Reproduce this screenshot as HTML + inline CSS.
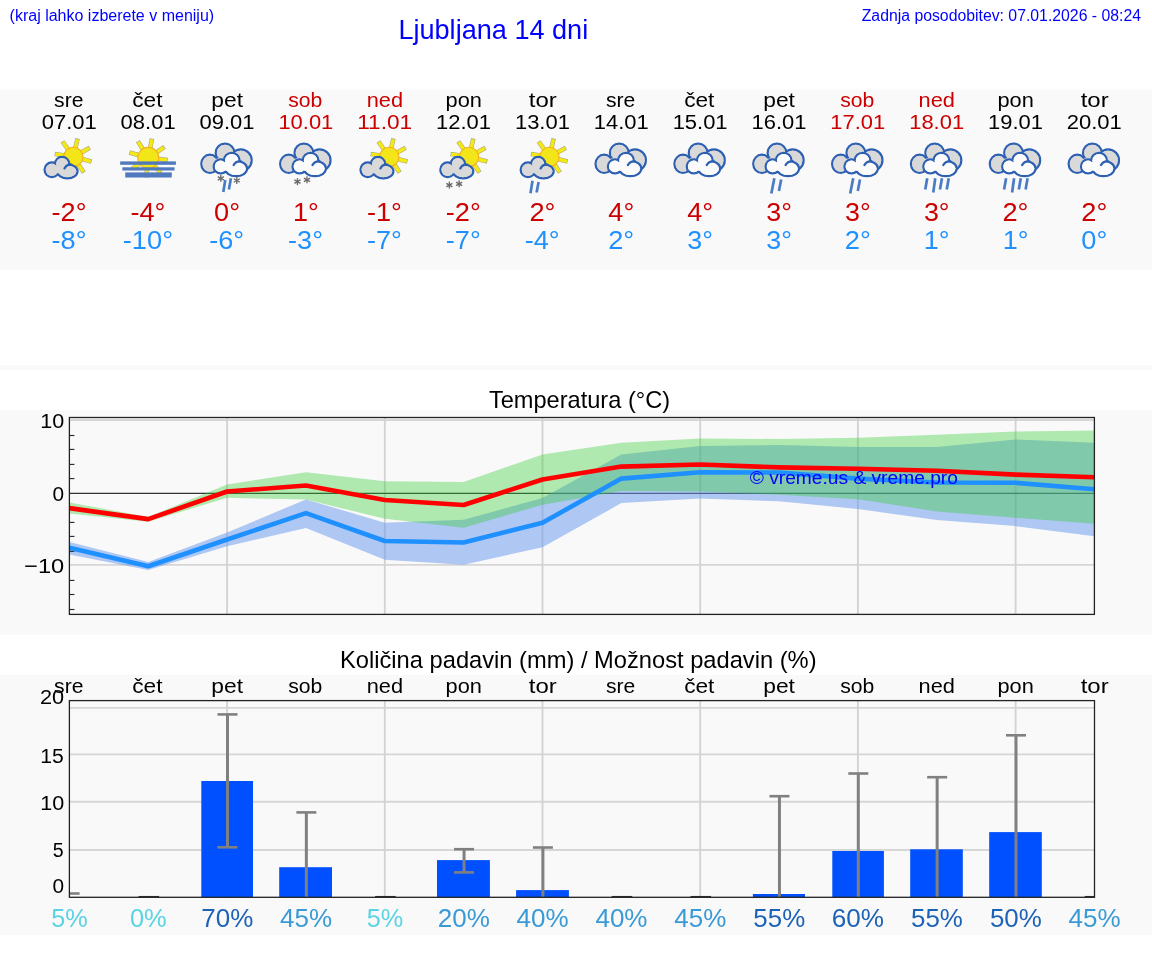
<!DOCTYPE html><html><head><meta charset="utf-8"><title>Ljubljana 14 dni</title><style>html,body{margin:0;padding:0;background:#fff;overflow:hidden}svg{display:block;will-change:transform}text{font-family:"Liberation Sans",sans-serif}</style></head><body>
<svg width="1152" height="975" viewBox="0 0 1152 975">
<rect width="1152" height="975" fill="#fff"/>
<rect x="0" y="89.7" width="1152" height="180.3" fill="#f9f9f9"/>
<rect x="0" y="365" width="1152" height="5" fill="#f9f9f9"/>
<rect x="0" y="410" width="1152" height="225" fill="#f9f9f9"/>
<rect x="0" y="675" width="1152" height="260" fill="#f9f9f9"/>
<text x="9.6" y="21" font-size="16" fill="#0000ff" text-anchor="start">(kraj lahko izberete v meniju)</text>
<text x="398.4" y="39.2" font-size="27.1" fill="#0000ff" text-anchor="start">Ljubljana 14 dni</text>
<text x="1141" y="21.4" font-size="15.8" fill="#0000ff" text-anchor="end">Zadnja posodobitev: 07.01.2026 - 08:24</text>
<text x="68.75" y="106.8" font-size="20.15" fill="#000" text-anchor="middle" textLength="29.3" lengthAdjust="spacingAndGlyphs">sre</text>
<text x="69.26" y="128.8" font-size="20.84" fill="#000" text-anchor="middle" textLength="55.05" lengthAdjust="spacingAndGlyphs">07.01</text>
<text x="69.03" y="220.8" font-size="25.31" fill="#cc0000" text-anchor="middle" textLength="34.95" lengthAdjust="spacingAndGlyphs">-2°</text>
<text x="69.03" y="248.8" font-size="25.31" fill="#1e90ff" text-anchor="middle" textLength="34.95" lengthAdjust="spacingAndGlyphs">-8°</text>
<text x="147.36" y="106.8" font-size="20.15" fill="#000" text-anchor="middle" textLength="30.23" lengthAdjust="spacingAndGlyphs">čet</text>
<text x="148.11" y="128.8" font-size="20.84" fill="#000" text-anchor="middle" textLength="55.05" lengthAdjust="spacingAndGlyphs">08.01</text>
<text x="147.88" y="220.8" font-size="25.31" fill="#cc0000" text-anchor="middle" textLength="34.95" lengthAdjust="spacingAndGlyphs">-4°</text>
<text x="147.94" y="248.8" font-size="25.31" fill="#1e90ff" text-anchor="middle" textLength="50.23" lengthAdjust="spacingAndGlyphs">-10°</text>
<text x="227.14" y="106.8" font-size="20.15" fill="#000" text-anchor="middle" textLength="31.7" lengthAdjust="spacingAndGlyphs">pet</text>
<text x="226.96" y="128.8" font-size="20.84" fill="#000" text-anchor="middle" textLength="55.05" lengthAdjust="spacingAndGlyphs">09.01</text>
<text x="227.01" y="220.8" font-size="25.31" fill="#cc0000" text-anchor="middle" textLength="25.95" lengthAdjust="spacingAndGlyphs">0°</text>
<text x="226.73" y="248.8" font-size="25.31" fill="#1e90ff" text-anchor="middle" textLength="34.95" lengthAdjust="spacingAndGlyphs">-6°</text>
<text x="305.3" y="106.8" font-size="20.15" fill="#cc0000" text-anchor="middle" textLength="34.06" lengthAdjust="spacingAndGlyphs">sob</text>
<text x="305.87" y="128.8" font-size="20.84" fill="#cc0000" text-anchor="middle" textLength="54.93" lengthAdjust="spacingAndGlyphs">10.01</text>
<text x="305.93" y="220.8" font-size="25.31" fill="#cc0000" text-anchor="middle" textLength="25.81" lengthAdjust="spacingAndGlyphs">1°</text>
<text x="305.58" y="248.8" font-size="25.31" fill="#1e90ff" text-anchor="middle" textLength="34.95" lengthAdjust="spacingAndGlyphs">-3°</text>
<text x="384.85" y="106.8" font-size="20.15" fill="#cc0000" text-anchor="middle" textLength="36.32" lengthAdjust="spacingAndGlyphs">ned</text>
<text x="384.72" y="128.8" font-size="20.84" fill="#cc0000" text-anchor="middle" textLength="55.04" lengthAdjust="spacingAndGlyphs">11.01</text>
<text x="384.43" y="220.8" font-size="25.31" fill="#cc0000" text-anchor="middle" textLength="34.95" lengthAdjust="spacingAndGlyphs">-1°</text>
<text x="384.43" y="248.8" font-size="25.31" fill="#1e90ff" text-anchor="middle" textLength="34.95" lengthAdjust="spacingAndGlyphs">-7°</text>
<text x="463.73" y="106.8" font-size="20.15" fill="#000" text-anchor="middle" textLength="36.32" lengthAdjust="spacingAndGlyphs">pon</text>
<text x="463.57" y="128.8" font-size="20.84" fill="#000" text-anchor="middle" textLength="54.93" lengthAdjust="spacingAndGlyphs">12.01</text>
<text x="463.28" y="220.8" font-size="25.31" fill="#cc0000" text-anchor="middle" textLength="34.95" lengthAdjust="spacingAndGlyphs">-2°</text>
<text x="463.28" y="248.8" font-size="25.31" fill="#1e90ff" text-anchor="middle" textLength="34.95" lengthAdjust="spacingAndGlyphs">-7°</text>
<text x="542.77" y="106.8" font-size="20.15" fill="#000" text-anchor="middle" textLength="28.01" lengthAdjust="spacingAndGlyphs">tor</text>
<text x="542.42" y="128.8" font-size="20.84" fill="#000" text-anchor="middle" textLength="54.93" lengthAdjust="spacingAndGlyphs">13.01</text>
<text x="542.4" y="220.8" font-size="25.31" fill="#cc0000" text-anchor="middle" textLength="25.99" lengthAdjust="spacingAndGlyphs">2°</text>
<text x="542.13" y="248.8" font-size="25.31" fill="#1e90ff" text-anchor="middle" textLength="34.95" lengthAdjust="spacingAndGlyphs">-4°</text>
<text x="620.7" y="106.8" font-size="20.15" fill="#000" text-anchor="middle" textLength="29.3" lengthAdjust="spacingAndGlyphs">sre</text>
<text x="621.27" y="128.8" font-size="20.84" fill="#000" text-anchor="middle" textLength="54.93" lengthAdjust="spacingAndGlyphs">14.01</text>
<text x="621.29" y="220.8" font-size="25.31" fill="#cc0000" text-anchor="middle" textLength="25.89" lengthAdjust="spacingAndGlyphs">4°</text>
<text x="621.25" y="248.8" font-size="25.31" fill="#1e90ff" text-anchor="middle" textLength="25.99" lengthAdjust="spacingAndGlyphs">2°</text>
<text x="699.31" y="106.8" font-size="20.15" fill="#000" text-anchor="middle" textLength="30.23" lengthAdjust="spacingAndGlyphs">čet</text>
<text x="700.12" y="128.8" font-size="20.84" fill="#000" text-anchor="middle" textLength="54.93" lengthAdjust="spacingAndGlyphs">15.01</text>
<text x="700.14" y="220.8" font-size="25.31" fill="#cc0000" text-anchor="middle" textLength="25.89" lengthAdjust="spacingAndGlyphs">4°</text>
<text x="700.23" y="248.8" font-size="25.31" fill="#1e90ff" text-anchor="middle" textLength="25.68" lengthAdjust="spacingAndGlyphs">3°</text>
<text x="779.09" y="106.8" font-size="20.15" fill="#000" text-anchor="middle" textLength="31.7" lengthAdjust="spacingAndGlyphs">pet</text>
<text x="778.97" y="128.8" font-size="20.84" fill="#000" text-anchor="middle" textLength="54.93" lengthAdjust="spacingAndGlyphs">16.01</text>
<text x="779.08" y="220.8" font-size="25.31" fill="#cc0000" text-anchor="middle" textLength="25.68" lengthAdjust="spacingAndGlyphs">3°</text>
<text x="779.08" y="248.8" font-size="25.31" fill="#1e90ff" text-anchor="middle" textLength="25.68" lengthAdjust="spacingAndGlyphs">3°</text>
<text x="857.25" y="106.8" font-size="20.15" fill="#cc0000" text-anchor="middle" textLength="34.06" lengthAdjust="spacingAndGlyphs">sob</text>
<text x="857.82" y="128.8" font-size="20.84" fill="#cc0000" text-anchor="middle" textLength="54.93" lengthAdjust="spacingAndGlyphs">17.01</text>
<text x="857.93" y="220.8" font-size="25.31" fill="#cc0000" text-anchor="middle" textLength="25.68" lengthAdjust="spacingAndGlyphs">3°</text>
<text x="857.8" y="248.8" font-size="25.31" fill="#1e90ff" text-anchor="middle" textLength="25.99" lengthAdjust="spacingAndGlyphs">2°</text>
<text x="936.8" y="106.8" font-size="20.15" fill="#cc0000" text-anchor="middle" textLength="36.32" lengthAdjust="spacingAndGlyphs">ned</text>
<text x="936.67" y="128.8" font-size="20.84" fill="#cc0000" text-anchor="middle" textLength="54.93" lengthAdjust="spacingAndGlyphs">18.01</text>
<text x="936.78" y="220.8" font-size="25.31" fill="#cc0000" text-anchor="middle" textLength="25.68" lengthAdjust="spacingAndGlyphs">3°</text>
<text x="936.73" y="248.8" font-size="25.31" fill="#1e90ff" text-anchor="middle" textLength="25.81" lengthAdjust="spacingAndGlyphs">1°</text>
<text x="1015.68" y="106.8" font-size="20.15" fill="#000" text-anchor="middle" textLength="36.32" lengthAdjust="spacingAndGlyphs">pon</text>
<text x="1015.52" y="128.8" font-size="20.84" fill="#000" text-anchor="middle" textLength="54.93" lengthAdjust="spacingAndGlyphs">19.01</text>
<text x="1015.5" y="220.8" font-size="25.31" fill="#cc0000" text-anchor="middle" textLength="25.99" lengthAdjust="spacingAndGlyphs">2°</text>
<text x="1015.58" y="248.8" font-size="25.31" fill="#1e90ff" text-anchor="middle" textLength="25.81" lengthAdjust="spacingAndGlyphs">1°</text>
<text x="1094.72" y="106.8" font-size="20.15" fill="#000" text-anchor="middle" textLength="28.01" lengthAdjust="spacingAndGlyphs">tor</text>
<text x="1094.3" y="128.8" font-size="20.84" fill="#000" text-anchor="middle" textLength="55.08" lengthAdjust="spacingAndGlyphs">20.01</text>
<text x="1094.35" y="220.8" font-size="25.31" fill="#cc0000" text-anchor="middle" textLength="25.99" lengthAdjust="spacingAndGlyphs">2°</text>
<text x="1094.36" y="248.8" font-size="25.31" fill="#1e90ff" text-anchor="middle" textLength="25.95" lengthAdjust="spacingAndGlyphs">0°</text>
<g><line x1="81.74" y1="159" x2="91.54" y2="161.45" stroke="#b0ab86" stroke-width="4.6"/><line x1="78.16" y1="164.11" x2="83.81" y2="172.49" stroke="#b0ab86" stroke-width="4.6"/><line x1="71.64" y1="165.44" x2="69.71" y2="175.35" stroke="#b0ab86" stroke-width="4.6"/><line x1="66.09" y1="161.76" x2="57.71" y2="167.41" stroke="#b0ab86" stroke-width="4.6"/><line x1="64.71" y1="155.54" x2="54.73" y2="153.96" stroke="#b0ab86" stroke-width="4.6"/><line x1="68.31" y1="149.77" x2="62.52" y2="141.5" stroke="#b0ab86" stroke-width="4.6"/><line x1="75.26" y1="148.42" x2="77.53" y2="138.58" stroke="#b0ab86" stroke-width="4.6"/><line x1="80.91" y1="152.68" x2="89.74" y2="147.79" stroke="#b0ab86" stroke-width="4.6"/><line x1="81.74" y1="159" x2="90.86" y2="161.28" stroke="#f4ea12" stroke-width="3.4"/><line x1="78.16" y1="164.11" x2="83.42" y2="171.91" stroke="#f4ea12" stroke-width="3.4"/><line x1="71.64" y1="165.44" x2="69.85" y2="174.67" stroke="#f4ea12" stroke-width="3.4"/><line x1="66.09" y1="161.76" x2="58.29" y2="167.02" stroke="#f4ea12" stroke-width="3.4"/><line x1="64.71" y1="155.54" x2="55.42" y2="154.07" stroke="#f4ea12" stroke-width="3.4"/><line x1="68.31" y1="149.77" x2="62.92" y2="142.07" stroke="#f4ea12" stroke-width="3.4"/><line x1="75.26" y1="148.42" x2="77.37" y2="139.26" stroke="#f4ea12" stroke-width="3.4"/><line x1="80.91" y1="152.68" x2="89.13" y2="148.12" stroke="#f4ea12" stroke-width="3.4"/><circle cx="73.3" cy="156.9" r="9.7" fill="#f2e618" stroke="#f5b021" stroke-width="1.1"/><circle cx="51.9" cy="169.8" r="7.3" fill="#d9d9d9" stroke="#2d60b2" stroke-width="2.3"/><circle cx="62.1" cy="164" r="7.1" fill="#d9d9d9" stroke="#2d60b2" stroke-width="2.3"/><ellipse cx="67.4" cy="171.3" rx="10.1" ry="7" fill="#d9d9d9" stroke="#2d60b2" stroke-width="2.3"/><circle cx="51.9" cy="169.8" r="6.2" fill="#d9d9d9"/><circle cx="62.1" cy="164" r="6" fill="#d9d9d9"/><ellipse cx="67.4" cy="171.3" rx="9" ry="5.9" fill="#d9d9d9"/><ellipse cx="59.4" cy="169.5" rx="5" ry="4" fill="#d9d9d9"/><path d="M64.51 168.4A6.83 6.83 0 0 1 71.31 164.71" fill="none" stroke="#2d60b2" stroke-width="2.3" stroke-linecap="round"/></g>
<g><line x1="157.7" y1="158.89" x2="167.74" y2="159.95" stroke="#b0ab86" stroke-width="4.6"/><line x1="154.23" y1="165.28" x2="160.58" y2="173.13" stroke="#b0ab86" stroke-width="4.6"/><line x1="147.26" y1="167.35" x2="146.2" y2="177.39" stroke="#b0ab86" stroke-width="4.6"/><line x1="140.37" y1="163.21" x2="132" y2="168.86" stroke="#b0ab86" stroke-width="4.6"/><line x1="139.12" y1="155.28" x2="129.41" y2="152.5" stroke="#b0ab86" stroke-width="4.6"/><line x1="143.22" y1="149.84" x2="137.86" y2="141.28" stroke="#b0ab86" stroke-width="4.6"/><line x1="150.06" y1="148.57" x2="151.99" y2="138.66" stroke="#b0ab86" stroke-width="4.6"/><line x1="156.13" y1="152.59" x2="164.5" y2="146.94" stroke="#b0ab86" stroke-width="4.6"/><line x1="157.7" y1="158.89" x2="167.05" y2="159.88" stroke="#f4ea12" stroke-width="3.4"/><line x1="154.23" y1="165.28" x2="160.14" y2="172.59" stroke="#f4ea12" stroke-width="3.4"/><line x1="147.26" y1="167.35" x2="146.27" y2="176.7" stroke="#f4ea12" stroke-width="3.4"/><line x1="140.37" y1="163.21" x2="132.58" y2="168.47" stroke="#f4ea12" stroke-width="3.4"/><line x1="139.12" y1="155.28" x2="130.08" y2="152.69" stroke="#f4ea12" stroke-width="3.4"/><line x1="143.22" y1="149.84" x2="138.23" y2="141.87" stroke="#f4ea12" stroke-width="3.4"/><line x1="150.06" y1="148.57" x2="151.86" y2="139.35" stroke="#f4ea12" stroke-width="3.4"/><line x1="156.13" y1="152.59" x2="163.92" y2="147.33" stroke="#f4ea12" stroke-width="3.4"/><circle cx="148.25" cy="157.9" r="10.5" fill="#f2e618" stroke="#f5b021" stroke-width="1.1"/><rect x="120.15" y="161.4" width="55.75" height="3.4" fill="#5079bf"/><rect x="122.35" y="167.3" width="52.2" height="3.2" fill="#5079bf"/><rect x="125.25" y="172.4" width="46.5" height="5.1" fill="#5079bf"/></g>
<g><ellipse cx="209.9" cy="163.85" rx="8.6" ry="9.1" fill="#d9d9d9" stroke="#2d60b2" stroke-width="2.3"/><circle cx="225" cy="152.9" r="9.3" fill="#d9d9d9" stroke="#2d60b2" stroke-width="2.3"/><circle cx="240.8" cy="160.3" r="10.8" fill="#d9d9d9" stroke="#2d60b2" stroke-width="2.3"/><ellipse cx="225.1" cy="164" rx="14" ry="8" fill="#d9d9d9" stroke="#2d60b2" stroke-width="2.3"/><ellipse cx="209.9" cy="163.85" rx="7.5" ry="8" fill="#d9d9d9"/><circle cx="225" cy="152.9" r="8.2" fill="#d9d9d9"/><circle cx="240.8" cy="160.3" r="9.7" fill="#d9d9d9"/><ellipse cx="225.1" cy="164" rx="12.9" ry="6.9" fill="#d9d9d9"/><circle cx="220.7" cy="166.4" r="7" fill="#fbfbfb" stroke="#2d60b2" stroke-width="2.3"/><circle cx="231.7" cy="160.6" r="7.8" fill="#fbfbfb" stroke="#2d60b2" stroke-width="2.3"/><ellipse cx="236.1" cy="168.6" rx="10.9" ry="7.6" fill="#fbfbfb" stroke="#2d60b2" stroke-width="2.3"/><circle cx="220.7" cy="166.4" r="5.9" fill="#fbfbfb"/><circle cx="231.7" cy="160.6" r="6.7" fill="#fbfbfb"/><ellipse cx="236.1" cy="168.6" rx="9.8" ry="6.5" fill="#fbfbfb"/><ellipse cx="227.6" cy="166.5" rx="6" ry="4.5" fill="#fbfbfb"/><path d="M233.66 165.08A7.07 7.07 0 0 1 240.64 161.37" fill="none" stroke="#2d60b2" stroke-width="2.3" stroke-linecap="round"/><line x1="220.8" y1="174.8" x2="220.8" y2="181.8" stroke="#6a6a6a" stroke-width="1.35"/><line x1="223.83" y1="176.55" x2="217.77" y2="180.05" stroke="#6a6a6a" stroke-width="1.35"/><line x1="223.83" y1="180.05" x2="217.77" y2="176.55" stroke="#6a6a6a" stroke-width="1.35"/><line x1="236.8" y1="177" x2="236.8" y2="184" stroke="#6a6a6a" stroke-width="1.35"/><line x1="239.83" y1="178.75" x2="233.77" y2="182.25" stroke="#6a6a6a" stroke-width="1.35"/><line x1="239.83" y1="182.25" x2="233.77" y2="178.75" stroke="#6a6a6a" stroke-width="1.35"/><line x1="225.3" y1="180" x2="223.3" y2="192" stroke="#4a7cc5" stroke-width="2.7" stroke-linecap="butt"/><line x1="230.9" y1="178.3" x2="228.9" y2="189.5" stroke="#4a7cc5" stroke-width="2.7" stroke-linecap="butt"/></g>
<g><ellipse cx="288.75" cy="163.85" rx="8.6" ry="9.1" fill="#d9d9d9" stroke="#2d60b2" stroke-width="2.3"/><circle cx="303.85" cy="152.9" r="9.3" fill="#d9d9d9" stroke="#2d60b2" stroke-width="2.3"/><circle cx="319.65" cy="160.3" r="10.8" fill="#d9d9d9" stroke="#2d60b2" stroke-width="2.3"/><ellipse cx="303.95" cy="164" rx="14" ry="8" fill="#d9d9d9" stroke="#2d60b2" stroke-width="2.3"/><ellipse cx="288.75" cy="163.85" rx="7.5" ry="8" fill="#d9d9d9"/><circle cx="303.85" cy="152.9" r="8.2" fill="#d9d9d9"/><circle cx="319.65" cy="160.3" r="9.7" fill="#d9d9d9"/><ellipse cx="303.95" cy="164" rx="12.9" ry="6.9" fill="#d9d9d9"/><circle cx="299.55" cy="166.4" r="7" fill="#fbfbfb" stroke="#2d60b2" stroke-width="2.3"/><circle cx="310.55" cy="160.6" r="7.8" fill="#fbfbfb" stroke="#2d60b2" stroke-width="2.3"/><ellipse cx="314.95" cy="168.6" rx="10.9" ry="7.6" fill="#fbfbfb" stroke="#2d60b2" stroke-width="2.3"/><circle cx="299.55" cy="166.4" r="5.9" fill="#fbfbfb"/><circle cx="310.55" cy="160.6" r="6.7" fill="#fbfbfb"/><ellipse cx="314.95" cy="168.6" rx="9.8" ry="6.5" fill="#fbfbfb"/><ellipse cx="306.45" cy="166.5" rx="6" ry="4.5" fill="#fbfbfb"/><path d="M312.51 165.08A7.07 7.07 0 0 1 319.49 161.37" fill="none" stroke="#2d60b2" stroke-width="2.3" stroke-linecap="round"/><line x1="297.45" y1="178.2" x2="297.45" y2="185.2" stroke="#6a6a6a" stroke-width="1.35"/><line x1="300.48" y1="179.95" x2="294.42" y2="183.45" stroke="#6a6a6a" stroke-width="1.35"/><line x1="300.48" y1="183.45" x2="294.42" y2="179.95" stroke="#6a6a6a" stroke-width="1.35"/><line x1="306.95" y1="176.3" x2="306.95" y2="183.3" stroke="#6a6a6a" stroke-width="1.35"/><line x1="309.98" y1="178.05" x2="303.92" y2="181.55" stroke="#6a6a6a" stroke-width="1.35"/><line x1="309.98" y1="181.55" x2="303.92" y2="178.05" stroke="#6a6a6a" stroke-width="1.35"/></g>
<g><line x1="397.64" y1="159" x2="407.44" y2="161.45" stroke="#b0ab86" stroke-width="4.6"/><line x1="394.06" y1="164.11" x2="399.71" y2="172.49" stroke="#b0ab86" stroke-width="4.6"/><line x1="387.54" y1="165.44" x2="385.61" y2="175.35" stroke="#b0ab86" stroke-width="4.6"/><line x1="381.99" y1="161.76" x2="373.61" y2="167.41" stroke="#b0ab86" stroke-width="4.6"/><line x1="380.61" y1="155.54" x2="370.63" y2="153.96" stroke="#b0ab86" stroke-width="4.6"/><line x1="384.21" y1="149.77" x2="378.42" y2="141.5" stroke="#b0ab86" stroke-width="4.6"/><line x1="391.16" y1="148.42" x2="393.43" y2="138.58" stroke="#b0ab86" stroke-width="4.6"/><line x1="396.81" y1="152.68" x2="405.64" y2="147.79" stroke="#b0ab86" stroke-width="4.6"/><line x1="397.64" y1="159" x2="406.76" y2="161.28" stroke="#f4ea12" stroke-width="3.4"/><line x1="394.06" y1="164.11" x2="399.32" y2="171.91" stroke="#f4ea12" stroke-width="3.4"/><line x1="387.54" y1="165.44" x2="385.75" y2="174.67" stroke="#f4ea12" stroke-width="3.4"/><line x1="381.99" y1="161.76" x2="374.19" y2="167.02" stroke="#f4ea12" stroke-width="3.4"/><line x1="380.61" y1="155.54" x2="371.32" y2="154.07" stroke="#f4ea12" stroke-width="3.4"/><line x1="384.21" y1="149.77" x2="378.82" y2="142.07" stroke="#f4ea12" stroke-width="3.4"/><line x1="391.16" y1="148.42" x2="393.27" y2="139.26" stroke="#f4ea12" stroke-width="3.4"/><line x1="396.81" y1="152.68" x2="405.03" y2="148.12" stroke="#f4ea12" stroke-width="3.4"/><circle cx="389.2" cy="156.9" r="9.7" fill="#f2e618" stroke="#f5b021" stroke-width="1.1"/><circle cx="367.8" cy="169.8" r="7.3" fill="#d9d9d9" stroke="#2d60b2" stroke-width="2.3"/><circle cx="378" cy="164" r="7.1" fill="#d9d9d9" stroke="#2d60b2" stroke-width="2.3"/><ellipse cx="383.3" cy="171.3" rx="10.1" ry="7" fill="#d9d9d9" stroke="#2d60b2" stroke-width="2.3"/><circle cx="367.8" cy="169.8" r="6.2" fill="#d9d9d9"/><circle cx="378" cy="164" r="6" fill="#d9d9d9"/><ellipse cx="383.3" cy="171.3" rx="9" ry="5.9" fill="#d9d9d9"/><ellipse cx="375.3" cy="169.5" rx="5" ry="4" fill="#d9d9d9"/><path d="M380.41 168.4A6.83 6.83 0 0 1 387.21 164.71" fill="none" stroke="#2d60b2" stroke-width="2.3" stroke-linecap="round"/></g>
<g><line x1="477.49" y1="159" x2="487.29" y2="161.45" stroke="#b0ab86" stroke-width="4.6"/><line x1="473.91" y1="164.11" x2="479.56" y2="172.49" stroke="#b0ab86" stroke-width="4.6"/><line x1="467.39" y1="165.44" x2="465.46" y2="175.35" stroke="#b0ab86" stroke-width="4.6"/><line x1="461.84" y1="161.76" x2="453.46" y2="167.41" stroke="#b0ab86" stroke-width="4.6"/><line x1="460.46" y1="155.54" x2="450.48" y2="153.96" stroke="#b0ab86" stroke-width="4.6"/><line x1="464.06" y1="149.77" x2="458.27" y2="141.5" stroke="#b0ab86" stroke-width="4.6"/><line x1="471.01" y1="148.42" x2="473.28" y2="138.58" stroke="#b0ab86" stroke-width="4.6"/><line x1="476.66" y1="152.68" x2="485.49" y2="147.79" stroke="#b0ab86" stroke-width="4.6"/><line x1="477.49" y1="159" x2="486.61" y2="161.28" stroke="#f4ea12" stroke-width="3.4"/><line x1="473.91" y1="164.11" x2="479.17" y2="171.91" stroke="#f4ea12" stroke-width="3.4"/><line x1="467.39" y1="165.44" x2="465.6" y2="174.67" stroke="#f4ea12" stroke-width="3.4"/><line x1="461.84" y1="161.76" x2="454.04" y2="167.02" stroke="#f4ea12" stroke-width="3.4"/><line x1="460.46" y1="155.54" x2="451.17" y2="154.07" stroke="#f4ea12" stroke-width="3.4"/><line x1="464.06" y1="149.77" x2="458.67" y2="142.07" stroke="#f4ea12" stroke-width="3.4"/><line x1="471.01" y1="148.42" x2="473.12" y2="139.26" stroke="#f4ea12" stroke-width="3.4"/><line x1="476.66" y1="152.68" x2="484.88" y2="148.12" stroke="#f4ea12" stroke-width="3.4"/><circle cx="469.05" cy="156.9" r="9.7" fill="#f2e618" stroke="#f5b021" stroke-width="1.1"/><circle cx="447.65" cy="169.8" r="7.3" fill="#d9d9d9" stroke="#2d60b2" stroke-width="2.3"/><circle cx="457.85" cy="164" r="7.1" fill="#d9d9d9" stroke="#2d60b2" stroke-width="2.3"/><ellipse cx="463.15" cy="171.3" rx="10.1" ry="7" fill="#d9d9d9" stroke="#2d60b2" stroke-width="2.3"/><circle cx="447.65" cy="169.8" r="6.2" fill="#d9d9d9"/><circle cx="457.85" cy="164" r="6" fill="#d9d9d9"/><ellipse cx="463.15" cy="171.3" rx="9" ry="5.9" fill="#d9d9d9"/><ellipse cx="455.15" cy="169.5" rx="5" ry="4" fill="#d9d9d9"/><path d="M460.26 168.4A6.83 6.83 0 0 1 467.06 164.71" fill="none" stroke="#2d60b2" stroke-width="2.3" stroke-linecap="round"/><line x1="449.35" y1="181.6" x2="449.35" y2="188.6" stroke="#6a6a6a" stroke-width="1.35"/><line x1="452.38" y1="183.35" x2="446.32" y2="186.85" stroke="#6a6a6a" stroke-width="1.35"/><line x1="452.38" y1="186.85" x2="446.32" y2="183.35" stroke="#6a6a6a" stroke-width="1.35"/><line x1="459.15" y1="180.3" x2="459.15" y2="187.3" stroke="#6a6a6a" stroke-width="1.35"/><line x1="462.18" y1="182.05" x2="456.12" y2="185.55" stroke="#6a6a6a" stroke-width="1.35"/><line x1="462.18" y1="185.55" x2="456.12" y2="182.05" stroke="#6a6a6a" stroke-width="1.35"/></g>
<g><line x1="557.84" y1="159" x2="567.64" y2="161.45" stroke="#b0ab86" stroke-width="4.6"/><line x1="554.26" y1="164.11" x2="559.91" y2="172.49" stroke="#b0ab86" stroke-width="4.6"/><line x1="547.74" y1="165.44" x2="545.81" y2="175.35" stroke="#b0ab86" stroke-width="4.6"/><line x1="542.19" y1="161.76" x2="533.81" y2="167.41" stroke="#b0ab86" stroke-width="4.6"/><line x1="540.81" y1="155.54" x2="530.83" y2="153.96" stroke="#b0ab86" stroke-width="4.6"/><line x1="544.41" y1="149.77" x2="538.62" y2="141.5" stroke="#b0ab86" stroke-width="4.6"/><line x1="551.36" y1="148.42" x2="553.63" y2="138.58" stroke="#b0ab86" stroke-width="4.6"/><line x1="557.01" y1="152.68" x2="565.84" y2="147.79" stroke="#b0ab86" stroke-width="4.6"/><line x1="557.84" y1="159" x2="566.96" y2="161.28" stroke="#f4ea12" stroke-width="3.4"/><line x1="554.26" y1="164.11" x2="559.52" y2="171.91" stroke="#f4ea12" stroke-width="3.4"/><line x1="547.74" y1="165.44" x2="545.95" y2="174.67" stroke="#f4ea12" stroke-width="3.4"/><line x1="542.19" y1="161.76" x2="534.39" y2="167.02" stroke="#f4ea12" stroke-width="3.4"/><line x1="540.81" y1="155.54" x2="531.52" y2="154.07" stroke="#f4ea12" stroke-width="3.4"/><line x1="544.41" y1="149.77" x2="539.02" y2="142.07" stroke="#f4ea12" stroke-width="3.4"/><line x1="551.36" y1="148.42" x2="553.47" y2="139.26" stroke="#f4ea12" stroke-width="3.4"/><line x1="557.01" y1="152.68" x2="565.23" y2="148.12" stroke="#f4ea12" stroke-width="3.4"/><circle cx="549.4" cy="156.9" r="9.7" fill="#f2e618" stroke="#f5b021" stroke-width="1.1"/><circle cx="528" cy="169.8" r="7.3" fill="#d9d9d9" stroke="#2d60b2" stroke-width="2.3"/><circle cx="538.2" cy="164" r="7.1" fill="#d9d9d9" stroke="#2d60b2" stroke-width="2.3"/><ellipse cx="543.5" cy="171.3" rx="10.1" ry="7" fill="#d9d9d9" stroke="#2d60b2" stroke-width="2.3"/><circle cx="528" cy="169.8" r="6.2" fill="#d9d9d9"/><circle cx="538.2" cy="164" r="6" fill="#d9d9d9"/><ellipse cx="543.5" cy="171.3" rx="9" ry="5.9" fill="#d9d9d9"/><ellipse cx="535.5" cy="169.5" rx="5" ry="4" fill="#d9d9d9"/><path d="M540.61 168.4A6.83 6.83 0 0 1 547.41 164.71" fill="none" stroke="#2d60b2" stroke-width="2.3" stroke-linecap="round"/><line x1="532.5" y1="180.8" x2="530.5" y2="193.2" stroke="#4a7cc5" stroke-width="2.7" stroke-linecap="butt"/><line x1="538.6" y1="182" x2="536.6" y2="192.5" stroke="#4a7cc5" stroke-width="2.7" stroke-linecap="butt"/></g>
<g><ellipse cx="604.15" cy="163.85" rx="8.6" ry="9.1" fill="#d9d9d9" stroke="#2d60b2" stroke-width="2.3"/><circle cx="619.25" cy="152.9" r="9.3" fill="#d9d9d9" stroke="#2d60b2" stroke-width="2.3"/><circle cx="635.05" cy="160.3" r="10.8" fill="#d9d9d9" stroke="#2d60b2" stroke-width="2.3"/><ellipse cx="619.35" cy="164" rx="14" ry="8" fill="#d9d9d9" stroke="#2d60b2" stroke-width="2.3"/><ellipse cx="604.15" cy="163.85" rx="7.5" ry="8" fill="#d9d9d9"/><circle cx="619.25" cy="152.9" r="8.2" fill="#d9d9d9"/><circle cx="635.05" cy="160.3" r="9.7" fill="#d9d9d9"/><ellipse cx="619.35" cy="164" rx="12.9" ry="6.9" fill="#d9d9d9"/><circle cx="614.95" cy="166.4" r="7" fill="#fbfbfb" stroke="#2d60b2" stroke-width="2.3"/><circle cx="625.95" cy="160.6" r="7.8" fill="#fbfbfb" stroke="#2d60b2" stroke-width="2.3"/><ellipse cx="630.35" cy="168.6" rx="10.9" ry="7.6" fill="#fbfbfb" stroke="#2d60b2" stroke-width="2.3"/><circle cx="614.95" cy="166.4" r="5.9" fill="#fbfbfb"/><circle cx="625.95" cy="160.6" r="6.7" fill="#fbfbfb"/><ellipse cx="630.35" cy="168.6" rx="9.8" ry="6.5" fill="#fbfbfb"/><ellipse cx="621.85" cy="166.5" rx="6" ry="4.5" fill="#fbfbfb"/><path d="M627.91 165.08A7.07 7.07 0 0 1 634.89 161.37" fill="none" stroke="#2d60b2" stroke-width="2.3" stroke-linecap="round"/></g>
<g><ellipse cx="683" cy="163.85" rx="8.6" ry="9.1" fill="#d9d9d9" stroke="#2d60b2" stroke-width="2.3"/><circle cx="698.1" cy="152.9" r="9.3" fill="#d9d9d9" stroke="#2d60b2" stroke-width="2.3"/><circle cx="713.9" cy="160.3" r="10.8" fill="#d9d9d9" stroke="#2d60b2" stroke-width="2.3"/><ellipse cx="698.2" cy="164" rx="14" ry="8" fill="#d9d9d9" stroke="#2d60b2" stroke-width="2.3"/><ellipse cx="683" cy="163.85" rx="7.5" ry="8" fill="#d9d9d9"/><circle cx="698.1" cy="152.9" r="8.2" fill="#d9d9d9"/><circle cx="713.9" cy="160.3" r="9.7" fill="#d9d9d9"/><ellipse cx="698.2" cy="164" rx="12.9" ry="6.9" fill="#d9d9d9"/><circle cx="693.8" cy="166.4" r="7" fill="#fbfbfb" stroke="#2d60b2" stroke-width="2.3"/><circle cx="704.8" cy="160.6" r="7.8" fill="#fbfbfb" stroke="#2d60b2" stroke-width="2.3"/><ellipse cx="709.2" cy="168.6" rx="10.9" ry="7.6" fill="#fbfbfb" stroke="#2d60b2" stroke-width="2.3"/><circle cx="693.8" cy="166.4" r="5.9" fill="#fbfbfb"/><circle cx="704.8" cy="160.6" r="6.7" fill="#fbfbfb"/><ellipse cx="709.2" cy="168.6" rx="9.8" ry="6.5" fill="#fbfbfb"/><ellipse cx="700.7" cy="166.5" rx="6" ry="4.5" fill="#fbfbfb"/><path d="M706.76 165.08A7.07 7.07 0 0 1 713.74 161.37" fill="none" stroke="#2d60b2" stroke-width="2.3" stroke-linecap="round"/></g>
<g><ellipse cx="761.85" cy="163.85" rx="8.6" ry="9.1" fill="#d9d9d9" stroke="#2d60b2" stroke-width="2.3"/><circle cx="776.95" cy="152.9" r="9.3" fill="#d9d9d9" stroke="#2d60b2" stroke-width="2.3"/><circle cx="792.75" cy="160.3" r="10.8" fill="#d9d9d9" stroke="#2d60b2" stroke-width="2.3"/><ellipse cx="777.05" cy="164" rx="14" ry="8" fill="#d9d9d9" stroke="#2d60b2" stroke-width="2.3"/><ellipse cx="761.85" cy="163.85" rx="7.5" ry="8" fill="#d9d9d9"/><circle cx="776.95" cy="152.9" r="8.2" fill="#d9d9d9"/><circle cx="792.75" cy="160.3" r="9.7" fill="#d9d9d9"/><ellipse cx="777.05" cy="164" rx="12.9" ry="6.9" fill="#d9d9d9"/><circle cx="772.65" cy="166.4" r="7" fill="#fbfbfb" stroke="#2d60b2" stroke-width="2.3"/><circle cx="783.65" cy="160.6" r="7.8" fill="#fbfbfb" stroke="#2d60b2" stroke-width="2.3"/><ellipse cx="788.05" cy="168.6" rx="10.9" ry="7.6" fill="#fbfbfb" stroke="#2d60b2" stroke-width="2.3"/><circle cx="772.65" cy="166.4" r="5.9" fill="#fbfbfb"/><circle cx="783.65" cy="160.6" r="6.7" fill="#fbfbfb"/><ellipse cx="788.05" cy="168.6" rx="9.8" ry="6.5" fill="#fbfbfb"/><ellipse cx="779.55" cy="166.5" rx="6" ry="4.5" fill="#fbfbfb"/><path d="M785.61 165.08A7.07 7.07 0 0 1 792.59 161.37" fill="none" stroke="#2d60b2" stroke-width="2.3" stroke-linecap="round"/><line x1="774.35" y1="178.3" x2="771.35" y2="193.4" stroke="#4a7cc5" stroke-width="2.7" stroke-linecap="butt"/><line x1="781.15" y1="179.5" x2="778.95" y2="191" stroke="#4a7cc5" stroke-width="2.7" stroke-linecap="butt"/></g>
<g><ellipse cx="840.7" cy="163.85" rx="8.6" ry="9.1" fill="#d9d9d9" stroke="#2d60b2" stroke-width="2.3"/><circle cx="855.8" cy="152.9" r="9.3" fill="#d9d9d9" stroke="#2d60b2" stroke-width="2.3"/><circle cx="871.6" cy="160.3" r="10.8" fill="#d9d9d9" stroke="#2d60b2" stroke-width="2.3"/><ellipse cx="855.9" cy="164" rx="14" ry="8" fill="#d9d9d9" stroke="#2d60b2" stroke-width="2.3"/><ellipse cx="840.7" cy="163.85" rx="7.5" ry="8" fill="#d9d9d9"/><circle cx="855.8" cy="152.9" r="8.2" fill="#d9d9d9"/><circle cx="871.6" cy="160.3" r="9.7" fill="#d9d9d9"/><ellipse cx="855.9" cy="164" rx="12.9" ry="6.9" fill="#d9d9d9"/><circle cx="851.5" cy="166.4" r="7" fill="#fbfbfb" stroke="#2d60b2" stroke-width="2.3"/><circle cx="862.5" cy="160.6" r="7.8" fill="#fbfbfb" stroke="#2d60b2" stroke-width="2.3"/><ellipse cx="866.9" cy="168.6" rx="10.9" ry="7.6" fill="#fbfbfb" stroke="#2d60b2" stroke-width="2.3"/><circle cx="851.5" cy="166.4" r="5.9" fill="#fbfbfb"/><circle cx="862.5" cy="160.6" r="6.7" fill="#fbfbfb"/><ellipse cx="866.9" cy="168.6" rx="9.8" ry="6.5" fill="#fbfbfb"/><ellipse cx="858.4" cy="166.5" rx="6" ry="4.5" fill="#fbfbfb"/><path d="M864.46 165.08A7.07 7.07 0 0 1 871.44 161.37" fill="none" stroke="#2d60b2" stroke-width="2.3" stroke-linecap="round"/><line x1="853.2" y1="178.3" x2="850.2" y2="193.4" stroke="#4a7cc5" stroke-width="2.7" stroke-linecap="butt"/><line x1="860" y1="179.5" x2="857.8" y2="191" stroke="#4a7cc5" stroke-width="2.7" stroke-linecap="butt"/></g>
<g><ellipse cx="919.55" cy="163.85" rx="8.6" ry="9.1" fill="#d9d9d9" stroke="#2d60b2" stroke-width="2.3"/><circle cx="934.65" cy="152.9" r="9.3" fill="#d9d9d9" stroke="#2d60b2" stroke-width="2.3"/><circle cx="950.45" cy="160.3" r="10.8" fill="#d9d9d9" stroke="#2d60b2" stroke-width="2.3"/><ellipse cx="934.75" cy="164" rx="14" ry="8" fill="#d9d9d9" stroke="#2d60b2" stroke-width="2.3"/><ellipse cx="919.55" cy="163.85" rx="7.5" ry="8" fill="#d9d9d9"/><circle cx="934.65" cy="152.9" r="8.2" fill="#d9d9d9"/><circle cx="950.45" cy="160.3" r="9.7" fill="#d9d9d9"/><ellipse cx="934.75" cy="164" rx="12.9" ry="6.9" fill="#d9d9d9"/><circle cx="930.35" cy="166.4" r="7" fill="#fbfbfb" stroke="#2d60b2" stroke-width="2.3"/><circle cx="941.35" cy="160.6" r="7.8" fill="#fbfbfb" stroke="#2d60b2" stroke-width="2.3"/><ellipse cx="945.75" cy="168.6" rx="10.9" ry="7.6" fill="#fbfbfb" stroke="#2d60b2" stroke-width="2.3"/><circle cx="930.35" cy="166.4" r="5.9" fill="#fbfbfb"/><circle cx="941.35" cy="160.6" r="6.7" fill="#fbfbfb"/><ellipse cx="945.75" cy="168.6" rx="9.8" ry="6.5" fill="#fbfbfb"/><ellipse cx="937.25" cy="166.5" rx="6" ry="4.5" fill="#fbfbfb"/><path d="M943.31 165.08A7.07 7.07 0 0 1 950.29 161.37" fill="none" stroke="#2d60b2" stroke-width="2.3" stroke-linecap="round"/><line x1="927.25" y1="178.3" x2="925.25" y2="189.4" stroke="#4a7cc5" stroke-width="2.7" stroke-linecap="butt"/><line x1="935.25" y1="178.3" x2="933.25" y2="192.5" stroke="#4a7cc5" stroke-width="2.7" stroke-linecap="butt"/><line x1="941.95" y1="178.3" x2="939.95" y2="189.4" stroke="#4a7cc5" stroke-width="2.7" stroke-linecap="butt"/><line x1="948.75" y1="178.3" x2="946.75" y2="189.4" stroke="#4a7cc5" stroke-width="2.7" stroke-linecap="butt"/></g>
<g><ellipse cx="998.4" cy="163.85" rx="8.6" ry="9.1" fill="#d9d9d9" stroke="#2d60b2" stroke-width="2.3"/><circle cx="1013.5" cy="152.9" r="9.3" fill="#d9d9d9" stroke="#2d60b2" stroke-width="2.3"/><circle cx="1029.3" cy="160.3" r="10.8" fill="#d9d9d9" stroke="#2d60b2" stroke-width="2.3"/><ellipse cx="1013.6" cy="164" rx="14" ry="8" fill="#d9d9d9" stroke="#2d60b2" stroke-width="2.3"/><ellipse cx="998.4" cy="163.85" rx="7.5" ry="8" fill="#d9d9d9"/><circle cx="1013.5" cy="152.9" r="8.2" fill="#d9d9d9"/><circle cx="1029.3" cy="160.3" r="9.7" fill="#d9d9d9"/><ellipse cx="1013.6" cy="164" rx="12.9" ry="6.9" fill="#d9d9d9"/><circle cx="1009.2" cy="166.4" r="7" fill="#fbfbfb" stroke="#2d60b2" stroke-width="2.3"/><circle cx="1020.2" cy="160.6" r="7.8" fill="#fbfbfb" stroke="#2d60b2" stroke-width="2.3"/><ellipse cx="1024.6" cy="168.6" rx="10.9" ry="7.6" fill="#fbfbfb" stroke="#2d60b2" stroke-width="2.3"/><circle cx="1009.2" cy="166.4" r="5.9" fill="#fbfbfb"/><circle cx="1020.2" cy="160.6" r="6.7" fill="#fbfbfb"/><ellipse cx="1024.6" cy="168.6" rx="9.8" ry="6.5" fill="#fbfbfb"/><ellipse cx="1016.1" cy="166.5" rx="6" ry="4.5" fill="#fbfbfb"/><path d="M1022.16 165.08A7.07 7.07 0 0 1 1029.14 161.37" fill="none" stroke="#2d60b2" stroke-width="2.3" stroke-linecap="round"/><line x1="1006.1" y1="178.3" x2="1004.1" y2="189.4" stroke="#4a7cc5" stroke-width="2.7" stroke-linecap="butt"/><line x1="1014.1" y1="178.3" x2="1012.1" y2="192.5" stroke="#4a7cc5" stroke-width="2.7" stroke-linecap="butt"/><line x1="1020.8" y1="178.3" x2="1018.8" y2="189.4" stroke="#4a7cc5" stroke-width="2.7" stroke-linecap="butt"/><line x1="1027.6" y1="178.3" x2="1025.6" y2="189.4" stroke="#4a7cc5" stroke-width="2.7" stroke-linecap="butt"/></g>
<g><ellipse cx="1077.25" cy="163.85" rx="8.6" ry="9.1" fill="#d9d9d9" stroke="#2d60b2" stroke-width="2.3"/><circle cx="1092.35" cy="152.9" r="9.3" fill="#d9d9d9" stroke="#2d60b2" stroke-width="2.3"/><circle cx="1108.15" cy="160.3" r="10.8" fill="#d9d9d9" stroke="#2d60b2" stroke-width="2.3"/><ellipse cx="1092.45" cy="164" rx="14" ry="8" fill="#d9d9d9" stroke="#2d60b2" stroke-width="2.3"/><ellipse cx="1077.25" cy="163.85" rx="7.5" ry="8" fill="#d9d9d9"/><circle cx="1092.35" cy="152.9" r="8.2" fill="#d9d9d9"/><circle cx="1108.15" cy="160.3" r="9.7" fill="#d9d9d9"/><ellipse cx="1092.45" cy="164" rx="12.9" ry="6.9" fill="#d9d9d9"/><circle cx="1088.05" cy="166.4" r="7" fill="#fbfbfb" stroke="#2d60b2" stroke-width="2.3"/><circle cx="1099.05" cy="160.6" r="7.8" fill="#fbfbfb" stroke="#2d60b2" stroke-width="2.3"/><ellipse cx="1103.45" cy="168.6" rx="10.9" ry="7.6" fill="#fbfbfb" stroke="#2d60b2" stroke-width="2.3"/><circle cx="1088.05" cy="166.4" r="5.9" fill="#fbfbfb"/><circle cx="1099.05" cy="160.6" r="6.7" fill="#fbfbfb"/><ellipse cx="1103.45" cy="168.6" rx="9.8" ry="6.5" fill="#fbfbfb"/><ellipse cx="1094.95" cy="166.5" rx="6" ry="4.5" fill="#fbfbfb"/><path d="M1101.01 165.08A7.07 7.07 0 0 1 1107.99 161.37" fill="none" stroke="#2d60b2" stroke-width="2.3" stroke-linecap="round"/></g>
<text x="579.5" y="407.6" font-size="23.6" fill="#000" text-anchor="middle">Temperatura (°C)</text>
<rect x="69.4" y="417.5" width="1025" height="196.9" fill="#f9f9f9"/>
<line x1="69.4" y1="420.05" x2="1094.4" y2="420.05" stroke="#d6d6d6" stroke-width="1.9"/>
<line x1="69.4" y1="564.9" x2="1094.4" y2="564.9" stroke="#d6d6d6" stroke-width="1.9"/>
<line x1="227.1" y1="417.5" x2="227.1" y2="614.4" stroke="#d3d3d3" stroke-width="1.9"/>
<line x1="384.8" y1="417.5" x2="384.8" y2="614.4" stroke="#d3d3d3" stroke-width="1.9"/>
<line x1="542.5" y1="417.5" x2="542.5" y2="614.4" stroke="#d3d3d3" stroke-width="1.9"/>
<line x1="700.2" y1="417.5" x2="700.2" y2="614.4" stroke="#d3d3d3" stroke-width="1.9"/>
<line x1="857.9" y1="417.5" x2="857.9" y2="614.4" stroke="#d3d3d3" stroke-width="1.9"/>
<line x1="1015.6" y1="417.5" x2="1015.6" y2="614.4" stroke="#d3d3d3" stroke-width="1.9"/>
<line x1="69.4" y1="493.4" x2="1094.4" y2="493.4" stroke="#333" stroke-width="1.3"/>
<polygon points="69.4,542 148.25,562 227.1,532.6 305.95,499.4 384.8,522.7 463.65,519.8 542.5,498.1 621.35,454.4 700.2,446 779.05,445 857.9,447.1 936.75,446.9 1015.6,439.4 1094.45,442.7 1094.45,536.3 1015.6,526.1 936.75,520 857.9,509 779.05,501.25 700.2,498.5 621.35,503.1 542.5,547.2 463.65,564.7 384.8,559.7 305.95,528 227.1,546.3 148.25,570 69.4,554.5" fill="#6495ed" fill-opacity="0.5"/>
<polygon points="69.4,502.5 148.25,517 227.1,484.5 305.95,472.2 384.8,481.2 463.65,481.9 542.5,454.5 621.35,442.7 700.2,438.4 779.05,439 857.9,437.7 936.75,434.8 1015.6,431.5 1094.45,430.4 1094.45,523.7 1015.6,517.8 936.75,511.4 857.9,499.3 779.05,494.7 700.2,491.6 621.35,491.1 542.5,504.7 463.65,527.7 384.8,518.8 305.95,499.5 227.1,497.8 148.25,521.7 69.4,513.4" fill="#32cd32" fill-opacity="0.37"/>
<line x1="69.4" y1="435.5" x2="74.4" y2="435.5" stroke="#222" stroke-width="1.1"/>
<line x1="69.4" y1="449.4" x2="74.4" y2="449.4" stroke="#222" stroke-width="1.1"/>
<line x1="69.4" y1="464.4" x2="74.4" y2="464.4" stroke="#222" stroke-width="1.1"/>
<line x1="69.4" y1="478.6" x2="74.4" y2="478.6" stroke="#222" stroke-width="1.1"/>
<line x1="69.4" y1="507.9" x2="74.4" y2="507.9" stroke="#222" stroke-width="1.1"/>
<line x1="69.4" y1="522.4" x2="74.4" y2="522.4" stroke="#222" stroke-width="1.1"/>
<line x1="69.4" y1="536.4" x2="74.4" y2="536.4" stroke="#222" stroke-width="1.1"/>
<line x1="69.4" y1="551.3" x2="74.4" y2="551.3" stroke="#222" stroke-width="1.1"/>
<line x1="69.4" y1="580.4" x2="74.4" y2="580.4" stroke="#222" stroke-width="1.1"/>
<line x1="69.4" y1="594.5" x2="74.4" y2="594.5" stroke="#222" stroke-width="1.1"/>
<line x1="69.4" y1="609.5" x2="74.4" y2="609.5" stroke="#222" stroke-width="1.1"/>
<polyline points="69.4,508.1 148.25,519.1 227.1,491.5 305.95,485.5 384.8,500 463.65,505 542.5,479.5 621.35,466.6 700.2,464.5 779.05,467.4 857.9,468.75 936.75,470.8 1015.6,474.6 1094.45,477.3" fill="none" stroke="#ff0000" stroke-width="4.6" stroke-linejoin="round"/>
<polyline points="69.4,547.8 148.25,566.3 227.1,539.5 305.95,513.1 384.8,541 463.65,542.5 542.5,522.7 621.35,478.6 700.2,472.3 779.05,472.5 857.9,478.6 936.75,482.5 1015.6,482.8 1094.45,489.3" fill="none" stroke="#1e90ff" stroke-width="4.6" stroke-linejoin="round"/>
<text x="749.7" y="483.7" font-size="19.2" fill="#0000ff" text-anchor="start">© vreme.us &amp; vreme.pro</text>
<rect x="69.4" y="417.5" width="1025" height="196.9" fill="none" stroke="#222" stroke-width="1.3"/>
<text x="64.19" y="427.8" font-size="20.84" fill="#000" text-anchor="end" textLength="23.99" lengthAdjust="spacingAndGlyphs">10</text>
<text x="64.16" y="500.8" font-size="20.84" fill="#000" text-anchor="end" textLength="11.59" lengthAdjust="spacingAndGlyphs">0</text>
<text x="64.3" y="573.1" font-size="20.84" fill="#000" text-anchor="end" textLength="40.19" lengthAdjust="spacingAndGlyphs">−10</text>
<text x="578.3" y="668" font-size="23.7" fill="#000" text-anchor="middle">Količina padavin (mm) / Možnost padavin (%)</text>
<rect x="69.4" y="700.6" width="1025.1" height="196.7" fill="#f9f9f9"/>
<line x1="69.4" y1="707.9" x2="1094.5" y2="707.9" stroke="#d6d6d6" stroke-width="1.9"/>
<line x1="69.4" y1="754.4" x2="1094.5" y2="754.4" stroke="#d6d6d6" stroke-width="1.9"/>
<line x1="69.4" y1="801.7" x2="1094.5" y2="801.7" stroke="#d6d6d6" stroke-width="1.9"/>
<line x1="69.4" y1="850" x2="1094.5" y2="850" stroke="#d6d6d6" stroke-width="1.9"/>
<line x1="227.1" y1="700.6" x2="227.1" y2="897.3" stroke="#d3d3d3" stroke-width="1.9"/>
<line x1="384.8" y1="700.6" x2="384.8" y2="897.3" stroke="#d3d3d3" stroke-width="1.9"/>
<line x1="542.5" y1="700.6" x2="542.5" y2="897.3" stroke="#d3d3d3" stroke-width="1.9"/>
<line x1="700.2" y1="700.6" x2="700.2" y2="897.3" stroke="#d3d3d3" stroke-width="1.9"/>
<line x1="857.9" y1="700.6" x2="857.9" y2="897.3" stroke="#d3d3d3" stroke-width="1.9"/>
<line x1="1015.6" y1="700.6" x2="1015.6" y2="897.3" stroke="#d3d3d3" stroke-width="1.9"/>
<rect x="201.3" y="781" width="51.7" height="116.3" fill="#0050ff"/>
<rect x="279.2" y="867.2" width="52.8" height="30.1" fill="#0050ff"/>
<rect x="437" y="860.1" width="52.9" height="37.2" fill="#0050ff"/>
<rect x="516.1" y="890.1" width="52.8" height="7.2" fill="#0050ff"/>
<rect x="752.9" y="894" width="52.1" height="3.3" fill="#0050ff"/>
<rect x="832.3" y="851" width="51.6" height="46.3" fill="#0050ff"/>
<rect x="910.2" y="849.3" width="52.6" height="48" fill="#0050ff"/>
<rect x="989.2" y="832.1" width="52.6" height="65.2" fill="#0050ff"/>
<line x1="227.5" y1="714.4" x2="227.5" y2="847.3" stroke="#808080" stroke-width="3"/>
<line x1="217.5" y1="714.4" x2="237.5" y2="714.4" stroke="#808080" stroke-width="2.6"/>
<line x1="217.5" y1="847.3" x2="237.5" y2="847.3" stroke="#808080" stroke-width="2.6"/>
<line x1="306.35" y1="812.4" x2="306.35" y2="897.3" stroke="#808080" stroke-width="3"/>
<line x1="296.35" y1="812.4" x2="316.35" y2="812.4" stroke="#808080" stroke-width="2.6"/>
<line x1="464.05" y1="849.2" x2="464.05" y2="872.4" stroke="#808080" stroke-width="3"/>
<line x1="454.05" y1="849.2" x2="474.05" y2="849.2" stroke="#808080" stroke-width="2.6"/>
<line x1="454.05" y1="872.4" x2="474.05" y2="872.4" stroke="#808080" stroke-width="2.6"/>
<line x1="542.9" y1="847.5" x2="542.9" y2="897.3" stroke="#808080" stroke-width="3"/>
<line x1="532.9" y1="847.5" x2="552.9" y2="847.5" stroke="#808080" stroke-width="2.6"/>
<line x1="779.45" y1="796.2" x2="779.45" y2="897.3" stroke="#808080" stroke-width="3"/>
<line x1="769.45" y1="796.2" x2="789.45" y2="796.2" stroke="#808080" stroke-width="2.6"/>
<line x1="858.3" y1="773.5" x2="858.3" y2="897.3" stroke="#808080" stroke-width="3"/>
<line x1="848.3" y1="773.5" x2="868.3" y2="773.5" stroke="#808080" stroke-width="2.6"/>
<line x1="937.15" y1="777.2" x2="937.15" y2="897.3" stroke="#808080" stroke-width="3"/>
<line x1="927.15" y1="777.2" x2="947.15" y2="777.2" stroke="#808080" stroke-width="2.6"/>
<line x1="1016" y1="735.3" x2="1016" y2="897.3" stroke="#808080" stroke-width="3"/>
<line x1="1006" y1="735.3" x2="1026" y2="735.3" stroke="#808080" stroke-width="2.6"/>
<line x1="70" y1="893.5" x2="79.6" y2="893.5" stroke="#808080" stroke-width="2.6"/>
<rect x="69.4" y="700.6" width="1025.1" height="196.7" fill="none" stroke="#222" stroke-width="1.3"/>
<line x1="138.55" y1="896.8" x2="159.15" y2="896.8" stroke="#2a2a2a" stroke-width="1.7"/>
<line x1="375.1" y1="896.8" x2="395.7" y2="896.8" stroke="#2a2a2a" stroke-width="1.7"/>
<line x1="611.65" y1="896.8" x2="632.25" y2="896.8" stroke="#2a2a2a" stroke-width="1.7"/>
<line x1="690.5" y1="896.8" x2="711.1" y2="896.8" stroke="#2a2a2a" stroke-width="1.7"/>
<line x1="1084.75" y1="896.8" x2="1094.5" y2="896.8" stroke="#2a2a2a" stroke-width="1.7"/>
<text x="64.2" y="704" font-size="20.84" fill="#000" text-anchor="end" textLength="24.15" lengthAdjust="spacingAndGlyphs">20</text>
<text x="63.78" y="763.3" font-size="20.84" fill="#000" text-anchor="end" textLength="23.55" lengthAdjust="spacingAndGlyphs">15</text>
<text x="64.19" y="810.3" font-size="20.84" fill="#000" text-anchor="end" textLength="23.99" lengthAdjust="spacingAndGlyphs">10</text>
<text x="63.72" y="857" font-size="20.84" fill="#000" text-anchor="end" textLength="10.9" lengthAdjust="spacingAndGlyphs">5</text>
<text x="64.16" y="892.8" font-size="20.84" fill="#000" text-anchor="end" textLength="11.59" lengthAdjust="spacingAndGlyphs">0</text>
<text x="68.75" y="692.7" font-size="20.15" fill="#000" text-anchor="middle" textLength="29.3" lengthAdjust="spacingAndGlyphs">sre</text>
<text x="147.36" y="692.7" font-size="20.15" fill="#000" text-anchor="middle" textLength="30.23" lengthAdjust="spacingAndGlyphs">čet</text>
<text x="227.14" y="692.7" font-size="20.15" fill="#000" text-anchor="middle" textLength="31.7" lengthAdjust="spacingAndGlyphs">pet</text>
<text x="305.3" y="692.7" font-size="20.15" fill="#000" text-anchor="middle" textLength="34.06" lengthAdjust="spacingAndGlyphs">sob</text>
<text x="384.85" y="692.7" font-size="20.15" fill="#000" text-anchor="middle" textLength="36.32" lengthAdjust="spacingAndGlyphs">ned</text>
<text x="463.73" y="692.7" font-size="20.15" fill="#000" text-anchor="middle" textLength="36.32" lengthAdjust="spacingAndGlyphs">pon</text>
<text x="542.77" y="692.7" font-size="20.15" fill="#000" text-anchor="middle" textLength="28.01" lengthAdjust="spacingAndGlyphs">tor</text>
<text x="620.7" y="692.7" font-size="20.15" fill="#000" text-anchor="middle" textLength="29.3" lengthAdjust="spacingAndGlyphs">sre</text>
<text x="699.31" y="692.7" font-size="20.15" fill="#000" text-anchor="middle" textLength="30.23" lengthAdjust="spacingAndGlyphs">čet</text>
<text x="779.09" y="692.7" font-size="20.15" fill="#000" text-anchor="middle" textLength="31.7" lengthAdjust="spacingAndGlyphs">pet</text>
<text x="857.25" y="692.7" font-size="20.15" fill="#000" text-anchor="middle" textLength="34.06" lengthAdjust="spacingAndGlyphs">sob</text>
<text x="936.8" y="692.7" font-size="20.15" fill="#000" text-anchor="middle" textLength="36.32" lengthAdjust="spacingAndGlyphs">ned</text>
<text x="1015.68" y="692.7" font-size="20.15" fill="#000" text-anchor="middle" textLength="36.32" lengthAdjust="spacingAndGlyphs">pon</text>
<text x="1094.72" y="692.7" font-size="20.15" fill="#000" text-anchor="middle" textLength="28.01" lengthAdjust="spacingAndGlyphs">tor</text>
<text x="69.56" y="926.9" font-size="25.31" fill="#5ad3e3" text-anchor="middle" textLength="36.53" lengthAdjust="spacingAndGlyphs">5%</text>
<text x="148.29" y="926.9" font-size="25.31" fill="#5ad3e3" text-anchor="middle" textLength="36.78" lengthAdjust="spacingAndGlyphs">0%</text>
<text x="227.25" y="926.9" font-size="25.31" fill="#1c62b6" text-anchor="middle" textLength="51.99" lengthAdjust="spacingAndGlyphs">70%</text>
<text x="306.07" y="926.9" font-size="25.31" fill="#3a9ad6" text-anchor="middle" textLength="52.06" lengthAdjust="spacingAndGlyphs">45%</text>
<text x="384.96" y="926.9" font-size="25.31" fill="#5ad3e3" text-anchor="middle" textLength="36.53" lengthAdjust="spacingAndGlyphs">5%</text>
<text x="463.74" y="926.9" font-size="25.31" fill="#3a9ad6" text-anchor="middle" textLength="52.11" lengthAdjust="spacingAndGlyphs">20%</text>
<text x="542.62" y="926.9" font-size="25.31" fill="#3a9ad6" text-anchor="middle" textLength="52.06" lengthAdjust="spacingAndGlyphs">40%</text>
<text x="621.47" y="926.9" font-size="25.31" fill="#3a9ad6" text-anchor="middle" textLength="52.06" lengthAdjust="spacingAndGlyphs">40%</text>
<text x="700.32" y="926.9" font-size="25.31" fill="#3a9ad6" text-anchor="middle" textLength="52.06" lengthAdjust="spacingAndGlyphs">45%</text>
<text x="779.27" y="926.9" font-size="25.31" fill="#1c62b6" text-anchor="middle" textLength="51.84" lengthAdjust="spacingAndGlyphs">55%</text>
<text x="857.93" y="926.9" font-size="25.31" fill="#1c62b6" text-anchor="middle" textLength="52.24" lengthAdjust="spacingAndGlyphs">60%</text>
<text x="936.97" y="926.9" font-size="25.31" fill="#1c62b6" text-anchor="middle" textLength="51.84" lengthAdjust="spacingAndGlyphs">55%</text>
<text x="1015.82" y="926.9" font-size="25.31" fill="#1c62b6" text-anchor="middle" textLength="51.84" lengthAdjust="spacingAndGlyphs">50%</text>
<text x="1094.57" y="926.9" font-size="25.31" fill="#3a9ad6" text-anchor="middle" textLength="52.06" lengthAdjust="spacingAndGlyphs">45%</text>
</svg></body></html>
